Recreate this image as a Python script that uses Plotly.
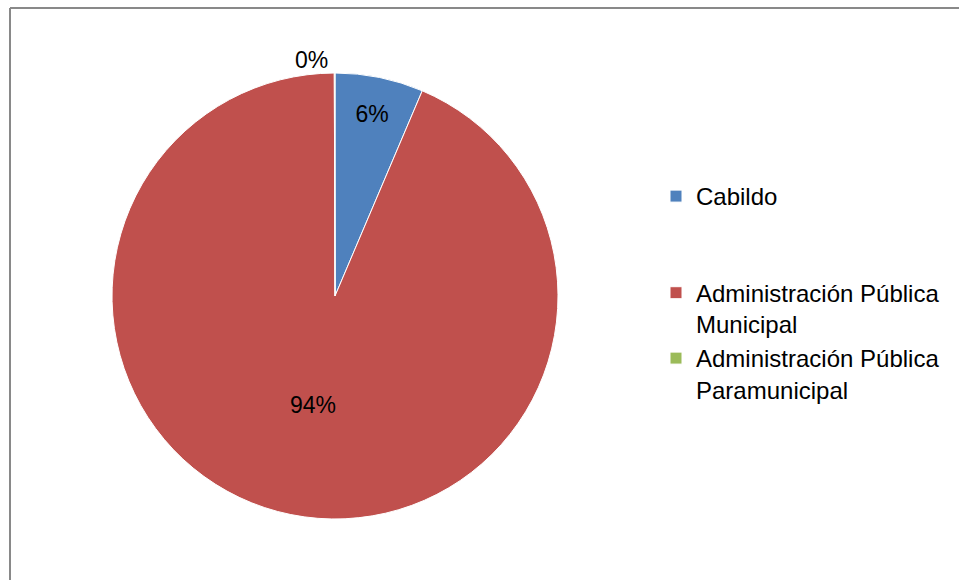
import plotly.graph_objects as go

labels = ["Cabildo<br> <br> ", "Administración Pública<br>Municipal", "Administración Pública<br>Paramunicipal"]
values = [6.4, 93.55, 0.05]
colors = ["#4F81BD", "#C0504D", "#9BBB59"]
text_positions = ["inside", "inside", "outside"]

W, H = 959, 580
cx, cy, r = 335, 296, 223

fig = go.Figure(go.Pie(
    labels=labels,
    values=values,
    sort=False,
    direction="clockwise",
    rotation=0,
    marker=dict(colors=colors, line=dict(color="white", width=1)),
    texttemplate="%{percent:.0%}",
    textposition=text_positions,
    insidetextorientation="horizontal",
    textfont=dict(family="Liberation Sans", size=23, color="black"),
    domain=dict(x=[(cx - r) / W, (cx + r) / W], y=[1 - (cy + r) / H, 1 - (cy - r) / H]),
    hoverinfo="percent",
))

frame = dict(color="#898989", width=2)
fig.update_layout(
    width=W, height=H,
    margin=dict(l=0, r=0, t=0, b=0),
    paper_bgcolor="white",
    plot_bgcolor="white",
    font=dict(family="Liberation Sans", size=24, color="black"),
    legend=dict(x=656 / W, y=1 - 174 / H, xanchor="left", yanchor="top",
                valign="top", font=dict(size=24), bgcolor="rgba(0,0,0,0)"),
    shapes=[
        dict(type="line", xref="paper", yref="paper", x0=10 / W, x1=1.2,
             y0=1 - 8 / H, y1=1 - 8 / H, line=frame, layer="below"),
        dict(type="line", xref="paper", yref="paper", x0=10 / W, x1=10 / W,
             y0=-0.2, y1=1 - 8 / H, line=frame, layer="below"),
    ],
)

fig.write_html(
    "out.html",
    config={"displayModeBar": False},
    post_script="document.body.style.margin='0';document.body.style.overflow='hidden';",
)
